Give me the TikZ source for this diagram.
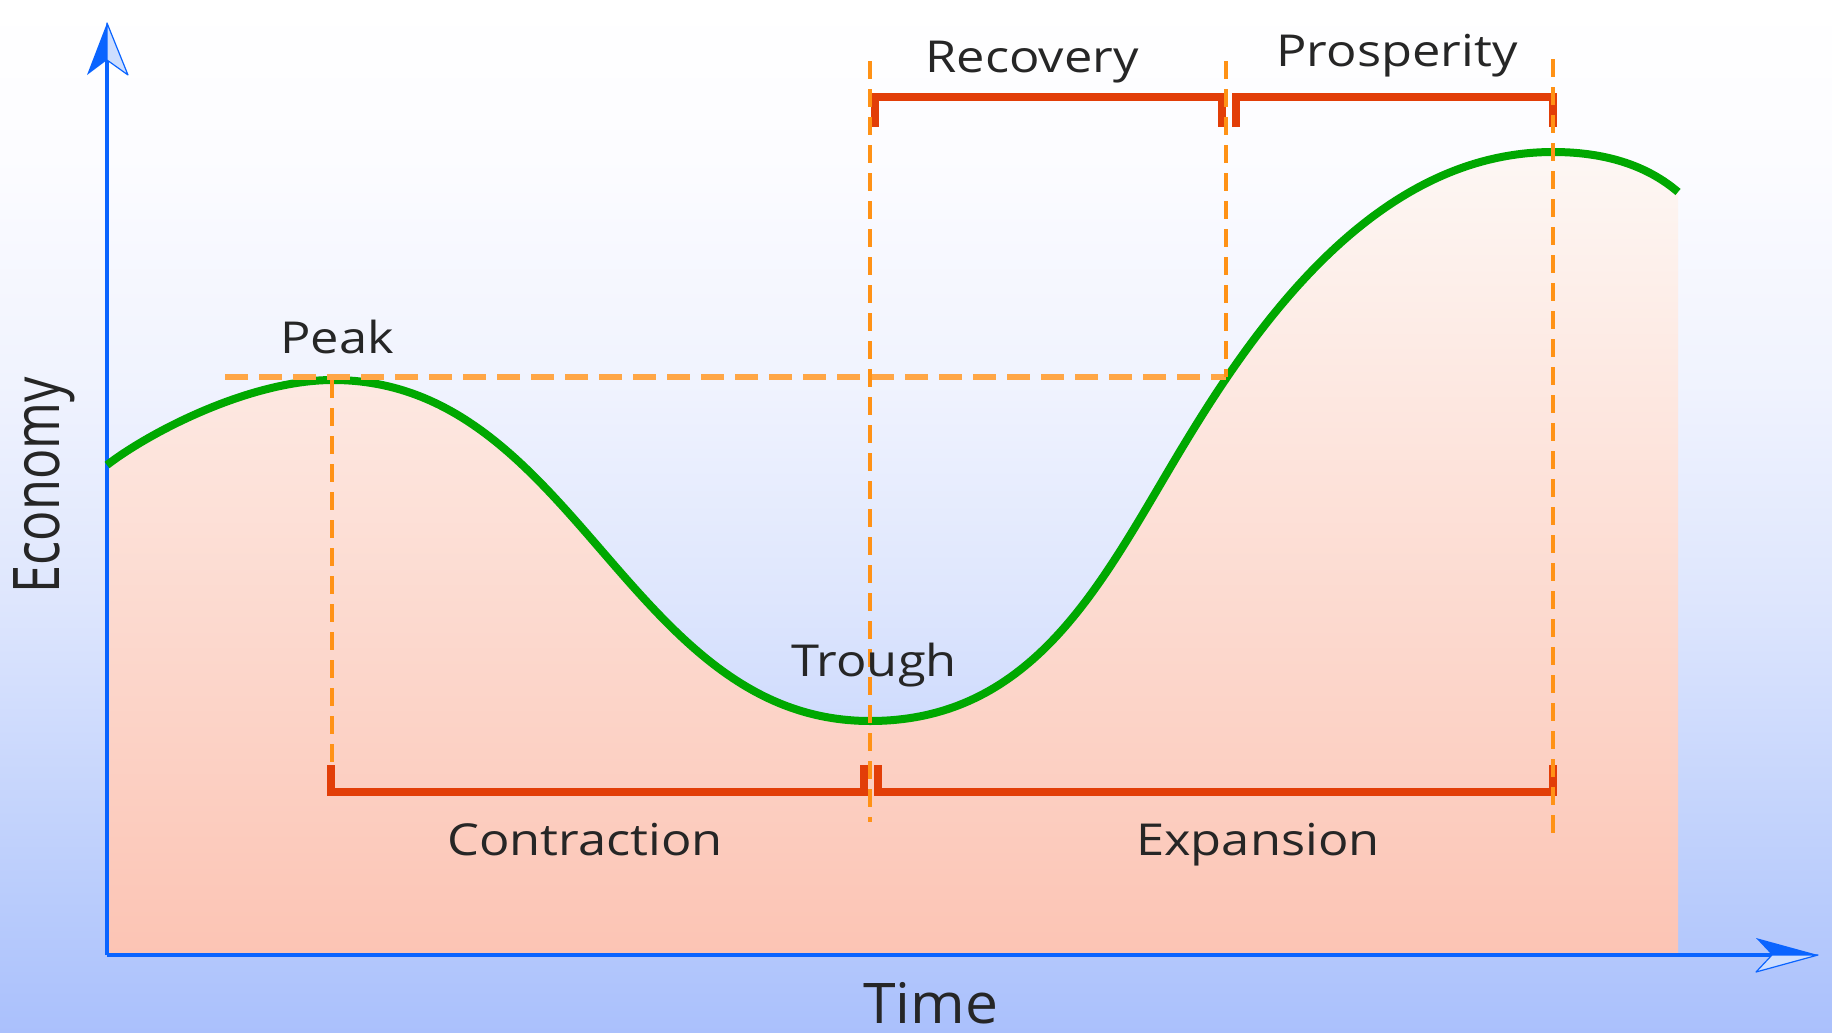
\documentclass[tikz,border=0pt]{standalone}
\usepackage{fontspec}
\setmainfont{Open Sans}
\definecolor{axisblue}{RGB}{10,100,255}
\definecolor{axislight}{RGB}{205,222,255}
\definecolor{curvegreen}{RGB}{0,168,0}
\definecolor{bracketred}{RGB}{226,62,8}
\definecolor{dashorange}{RGB}{255,146,22}
\definecolor{hdashorange}{RGB}{255,166,70}
\definecolor{labelgray}{RGB}{38,38,38}
\definecolor{bgA}{RGB}{170,192,252}
\definecolor{bgB}{RGB}{185,204,252}
\definecolor{bgC}{RGB}{222,230,253}
\definecolor{bgD}{RGB}{240,243,254}
\definecolor{bgE}{RGB}{252,252,255}
\definecolor{pinkTop}{RGB}{253,247,244}
\definecolor{pinkBot}{RGB}{252,196,180}
\pgfdeclareverticalshading{bgshade}{100bp}{color(0bp)=(bgA); color(25bp)=(bgA); color(31.5bp)=(bgB); color(46bp)=(bgC); color(56.5bp)=(bgD); color(67.5bp)=(bgE); color(75bp)=(white); color(100bp)=(white)}
\begin{document}
\begin{tikzpicture}[x=0.5pt,y=-0.5pt,
  axisline/.style={draw=axisblue,line width=2pt},
  curveline/.style={draw=curvegreen,line width=4pt},
  bracketline/.style={draw=bracketred,line width=4pt,line join=miter},
  vdash/.style={draw=dashorange,line width=2.2pt,dash pattern=on 9pt off 5pt},
  hdash/.style={draw=hdashorange,line width=2.6pt,dash pattern=on 11.5pt off 5.5pt},
  lbl/.style={font=\fontsize{22}{26}\selectfont,text=labelgray,inner sep=0pt,anchor=base,xscale=1.15,transform shape}]
\useasboundingbox (0,0) rectangle (1832,1033);
\shade[shading=bgshade] (0,0) rectangle (1832,1033);
% key points
\coordinate (O) at (107,955);
\coordinate (cstart) at (107,465);
\coordinate (peakA) at (333,380);
\coordinate (trough) at (870,721);
\coordinate (infl) at (1160,485);
\coordinate (peakB) at (1553,152);
\coordinate (cend) at (1678,192);
\coordinate (fillR) at (1678,955);
% area under curve
\shade[top color=pinkTop,bottom color=pinkBot] (O) -- (cstart) .. controls (150,432) and (250,380) .. (peakA) .. controls (575,380) and (628,721) .. (trough) .. controls (1021,721) and (1090,604) .. (infl) .. controls (1230,366) and (1356,152) .. (peakB) .. controls (1610,152) and (1650,168) .. (cend) -- (fillR) -- cycle;
% axes
\coordinate (ynotch) at (107,60);
\coordinate (ytip) at (107,23);
\coordinate (ywl) at (87,75);
\coordinate (ywr) at (128,75);
\coordinate (xnotch) at (1772,955);
\coordinate (xtip) at (1818,955);
\coordinate (xwt) at (1756,938);
\coordinate (xwb) at (1756,972);
\draw[axisline] (O) -- (ynotch);
\draw[axisline] (O) -- (xnotch);
\fill[axisblue] (ytip) -- (ywl) -- (ynotch) -- cycle;
\filldraw[fill=axislight,draw=axisblue,line width=0.6pt,line join=round] (ytip) -- (ynotch) -- (ywr) -- cycle;
\fill[axisblue] (xtip) -- (xwt) -- (xnotch) -- cycle;
\filldraw[fill=axislight,draw=axisblue,line width=0.6pt,line join=round] (xtip) -- (xnotch) -- (xwb) -- cycle;
% curve
\draw[curveline] (cstart) .. controls (150,432) and (250,380) .. (peakA) .. controls (575,380) and (628,721) .. (trough) .. controls (1021,721) and (1090,604) .. (infl) .. controls (1230,366) and (1356,152) .. (peakB) .. controls (1610,152) and (1650,168) .. (cend);
% brackets
\draw[bracketline] (875,127) -- (875,97) -- (1222,97) -- (1222,127);
\draw[bracketline] (1236,127) -- (1236,97) -- (1553,97) -- (1553,127);
\draw[bracketline] (331,765) -- (331,792) -- (864,792) -- (864,765);
\draw[bracketline] (878,765) -- (878,792) -- (1553,792) -- (1553,765);
% dashed guides
\coordinate (hL) at (225,377);
\coordinate (hR) at (1226,377);
\draw[hdash] (hL) -- (hR);
\draw[vdash] (332,380) -- (332,762);
\draw[vdash] (870,61) -- (870,822);
\draw[vdash] (1226,61) -- (hR);
\draw[vdash] (1553,59) -- (1553,840);
% labels
\node[lbl] (recovery) at (1032,72) {Recovery};
\node[lbl] (prosperity) at (1397,66) {Prosperity};
\node[lbl] (peak) at (337,353) {Peak};
\node[lbl] (troughlbl) at (874,676) {Trough};
\node[lbl] (contraction) at (585,855) {Contraction};
\node[lbl] (expansion) at (1258,855) {Expansion};
\node[font=\fontsize{28}{32}\selectfont,text=labelgray,inner sep=0pt,anchor=base,xscale=1.05,transform shape] (time) at (931,1023) {Time};
\node[font=\fontsize{28}{32}\selectfont,text=labelgray,inner sep=0pt,anchor=base,rotate=90,xscale=0.9,yscale=1.15,transform shape] (economy) at (59,485) {Economy};
\end{tikzpicture}
\end{document}
